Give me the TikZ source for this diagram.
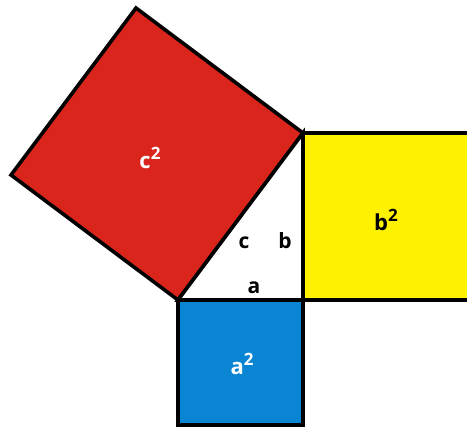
\documentclass[tikz,border=0pt]{standalone}
\usepackage{fontspec}
\setmainfont{Open Sans}
\usepackage{tikz}
\usetikzlibrary{positioning}
\usepackage{xcolor}
\definecolor{pyred}{RGB}{218,37,29}
\definecolor{pyyellow}{RGB}{255,242,0}
\definecolor{pyblue}{RGB}{10,133,212}
\newcommand{\sqtwo}{\raisebox{0.42em}{\fontsize{17}{17}\selectfont 2}}
\tikzstyle{square} = [draw=black, line width=3.6pt, line join=miter]
\tikzstyle{sqlabel} = [font=\fontsize{22}{22}\selectfont\bfseries, inner sep=0pt]
\tikzstyle{sidelabel} = [font=\fontsize{21}{21}\selectfont\bfseries, inner sep=0pt, anchor=base]

\begin{document}
\begin{tikzpicture}[x=1pt, y=-1pt]
\useasboundingbox (0,0) rectangle (467,429);
\clip (0,0) rectangle (467,429);
% Corners of the right triangle
\coordinate (A) at (178,300);
\coordinate (B) at (303,300);
\coordinate (C) at (303,133);
\coordinate (Ap) at (11,175);
\coordinate (Cp) at (136,8);

% Squares on the three sides
\draw[square, fill=pyred] (A) -- (C) -- (Cp) -- (Ap) -- cycle;
\draw[square, fill=pyyellow] (C) rectangle (472,300);
\draw[square, fill=pyblue] (A) rectangle (303,425);
\draw[square, fill=white] (A) -- (B) -- (C) -- cycle;

% Areas
\node[sqlabel, text=white] (csq) at (150,158) {c\sqtwo};
\node[sqlabel] (bsq) at (386,220) {b\sqtwo};
\node[sqlabel, text=white] (asq) at (242,364) {a\sqtwo};

% Sides
\node[sidelabel] (cside) at (244,248) {c};
\node[sidelabel] (bside) at (285,248) {b};
\node[sidelabel] (aside) at (254,293) {a};
\end{tikzpicture}
\end{document}
